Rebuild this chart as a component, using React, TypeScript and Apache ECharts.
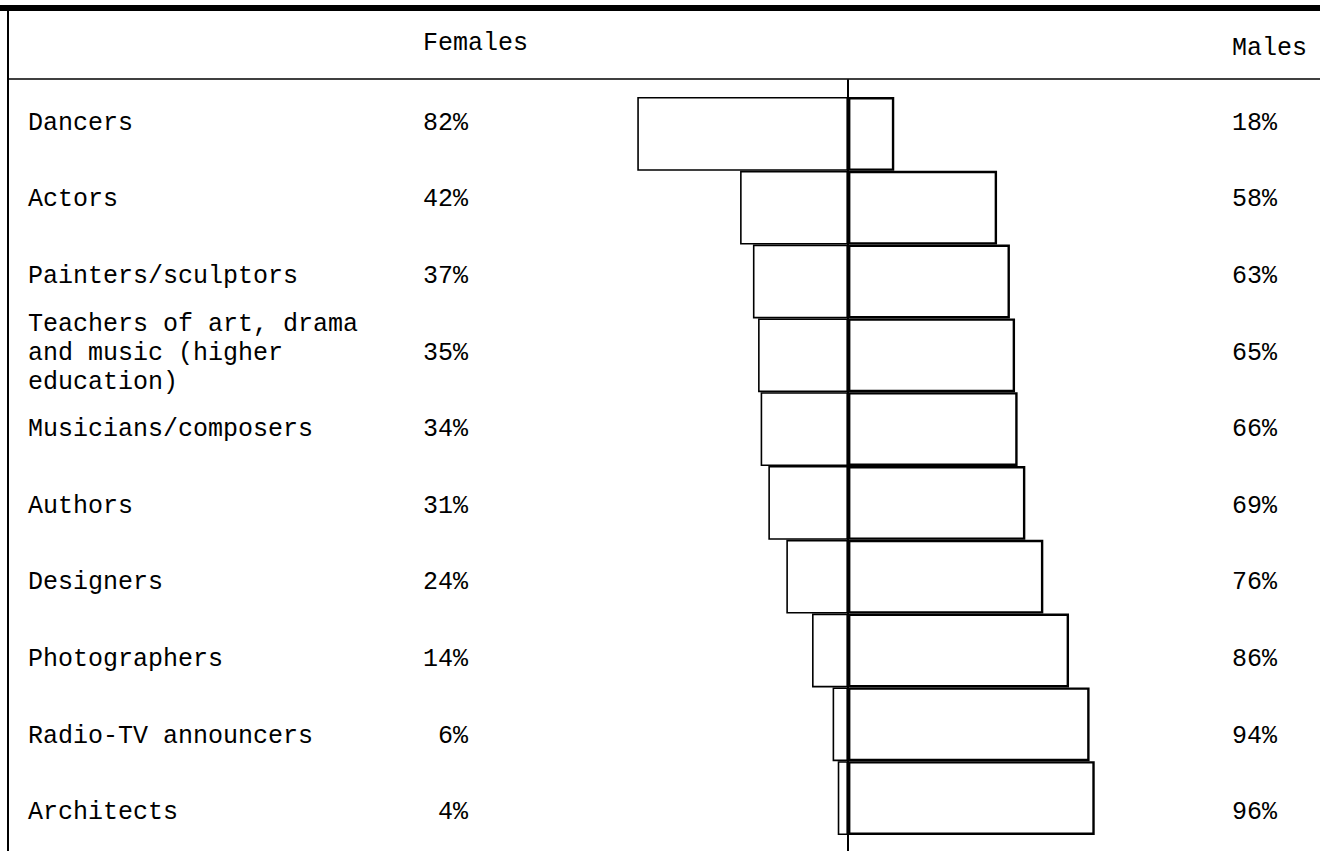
import React, { useEffect, useRef } from "react";
import * as echarts from "echarts";

const categories = [
  "Dancers",
  "Actors",
  "Painters/sculptors",
  "Teachers of art, drama\nand music (higher\neducation)",
  "Musicians/composers",
  "Authors",
  "Designers",
  "Photographers",
  "Radio-TV announcers",
  "Architects",
];
const femalePct = [82, 42, 37, 35, 34, 31, 24, 14, 6, 4];
const malePct = [18, 58, 63, 65, 66, 69, 76, 86, 94, 96];
const headerFemale = "Females";
const headerMale = "Males";

const FONT = "'Liberation Mono', 'Courier New', monospace";

export default function App() {
  const ref = useRef<HTMLDivElement>(null);
  useEffect(() => {
    if (!ref.current) return;
    const chart = echarts.init(ref.current, undefined, { renderer: "svg" });
    const txt = { color: "#000", fontFamily: FONT, fontSize: 25 };
    const option: any = {
      animation: false,
      backgroundColor: "#fff",
      title: [
        { text: headerFemale, left: 423, top: 31, padding: 0, textStyle: { ...txt, fontWeight: "normal" } },
        { text: headerMale, left: 1232, top: 36, padding: 0, textStyle: { ...txt, fontWeight: "normal" } },
      ],
      graphic: [
        { type: "rect", shape: { x: 0, y: 5, width: 1320, height: 6 }, style: { fill: "#000" } },
        { type: "line", shape: { x1: 8, y1: 79, x2: 1320, y2: 79 }, style: { stroke: "#000", lineWidth: 1.5 } },
        { type: "line", shape: { x1: 8, y1: 8, x2: 8, y2: 851 }, style: { stroke: "#000", lineWidth: 2 } },
      ],
      grid: [
        { left: 591, width: 514, top: 97, height: 738 },
        { left: 0, width: 1320, top: 85, height: 766 },
        { left: 591, width: 514, top: 80, height: 771 },
      ],
      xAxis: [
        { gridIndex: 0, type: "value", min: -100, max: 100, show: false },
        { gridIndex: 1, type: "value", min: 0, max: 1, show: false },
        { gridIndex: 2, type: "value", min: -100, max: 100, show: false },
      ],
      yAxis: [
        {
          gridIndex: 0,
          type: "category",
          inverse: true,
          data: categories,
          axisLine: { show: false },
          axisTick: { show: false },
          axisLabel: { show: false },
        },
        {
          gridIndex: 1,
          type: "category",
          inverse: true,
          position: "left",
          data: categories,
          axisLine: { show: false },
          axisTick: { show: false },
          axisLabel: { ...txt, interval: 0, align: "left", margin: -28, lineHeight: 29 },
        },
        {
          gridIndex: 1,
          type: "category",
          inverse: true,
          position: "left",
          offset: -468,
          data: femalePct.map((v) => v + "%"),
          axisLine: { show: false },
          axisTick: { show: false },
          axisLabel: { ...txt, interval: 0, align: "right", margin: 0 },
        },
        {
          gridIndex: 1,
          type: "category",
          inverse: true,
          position: "right",
          offset: -88,
          data: malePct.map((v) => v + "%"),
          axisLine: { show: false },
          axisTick: { show: false },
          axisLabel: { ...txt, interval: 0, align: "left", margin: 0 },
        },
        {
          gridIndex: 2,
          type: "value",
          min: 0,
          max: 1,
          axisLine: { show: true, onZero: true, lineStyle: { color: "#000", width: 2 } },
          axisTick: { show: false },
          axisLabel: { show: false },
          splitLine: { show: false },
        },
      ],
      series: [
        {
          type: "bar",
          name: "Females",
          xAxisIndex: 0,
          yAxisIndex: 0,
          stack: "total",
          barCategoryGap: "0%",
          data: femalePct.map((v) => -v),
          itemStyle: { color: "#fff", borderColor: "#000", borderWidth: 1.6 },
          z: 2,
        },
        {
          type: "bar",
          name: "Males",
          xAxisIndex: 0,
          yAxisIndex: 0,
          stack: "total",
          barCategoryGap: "0%",
          data: malePct,
          itemStyle: { color: "#fff", borderColor: "#000", borderWidth: 2.4 },
          z: 3,
        },
      ],
    };
    chart.setOption(option);
    return () => chart.dispose();
  }, []);
  return (
    <div
      ref={ref}
      style={{ position: "fixed", left: 0, top: 0, width: 1320, height: 851, background: "#fff" }}
    />
  );
}
